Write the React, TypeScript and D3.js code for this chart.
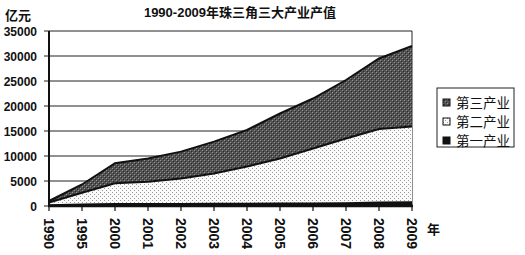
import React from "react";
import * as d3 from "d3";

const years = ["1990", "1995", "2000", "2001", "2002", "2003", "2004", "2005", "2006", "2007", "2008", "2009"];
const primary = [150, 300, 400, 400, 420, 430, 460, 480, 500, 530, 700, 750];
const secondary = [550, 2350, 4150, 4470, 5080, 6070, 7440, 9020, 11000, 12970, 14700, 15150];
const tertiary = [300, 1650, 4000, 4630, 5370, 6370, 7300, 9000, 10000, 11700, 14100, 16100];
const yTicks = [0, 5000, 10000, 15000, 20000, 25000, 30000, 35000];
const seriesNames = ["第一产业", "第二产业", "第三产业"];
const legendOrder = ["第三产业", "第二产业", "第一产业"];

const FONT = "'Liberation Sans', Arial, 'Noto Sans CJK SC', sans-serif";

export default function App() {
  const W = 525, H = 255;
  const x = d3.scalePoint<string>().domain(years).range([49, 412]);
  const y = d3.scaleLinear().domain([0, 35000]).range([206, 31]);

  const rows = years.map((yr, i) => ({
    year: yr,
    "第一产业": primary[i],
    "第二产业": secondary[i],
    "第三产业": tertiary[i],
  }));
  const stacked = d3.stack<any>().keys(seriesNames)(rows);
  const area = d3
    .area<any>()
    .x((d) => x(d.data.year)!)
    .y0((d) => y(d[0]))
    .y1((d) => y(d[1]));
  const line = d3
    .line<any>()
    .x((d) => x(d.data.year)!)
    .y((d) => y(d[1]));

  const fills: Record<string, string> = {
    "第一产业": "#111",
    "第二产业": "url(#dots)",
    "第三产业": "url(#hatch)",
  };

  return (
    <svg width={W} height={H} style={{ position: "absolute", left: 0, top: 0, background: "#fff" }} fontFamily={FONT}>
      <defs>
        <pattern id="dots" width="4" height="4" patternUnits="userSpaceOnUse">
          <rect width="4" height="4" fill="#fafafa" />
          <rect x="0" y="0" width="1" height="1" fill="#999" />
          <rect x="2" y="2" width="1" height="1" fill="#999" />
        </pattern>
        <pattern id="hatch" width="4" height="4" patternUnits="userSpaceOnUse">
          <rect width="4" height="4" fill="#525252" />
          <rect x="0" y="0" width="1" height="1" fill="#959595" />
          <rect x="2" y="2" width="1" height="1" fill="#959595" />
          <rect x="1" y="1" width="1" height="1" fill="#2a2a2a" />
          <rect x="3" y="3" width="1" height="1" fill="#2a2a2a" />
        </pattern>
      </defs>

      {/* title */}
      <text x={240} y={17} textAnchor="middle" fontSize={13} fontWeight="bold" fill="#111">
        1990-2009年珠三角三大产业产值
      </text>
      <text x={5} y={20} fontSize={13} fontWeight="bold" fill="#111">亿元</text>

      {/* gridlines */}
      {yTicks.map((t) => (
        <line key={t} x1={44} x2={412} y1={y(t)} y2={y(t)} stroke="#222" strokeWidth={1} />
      ))}
      {/* right border */}
      <line x1={412} x2={412} y1={y(35000)} y2={y(0)} stroke="#222" strokeWidth={1} />

      {/* areas */}
      {stacked.map((s) => (
        <path key={s.key} d={area(s) || ""} fill={fills[s.key]} stroke="none" />
      ))}
      {stacked.map((s) => (
        <path key={s.key + "l"} d={line(s) || ""} fill="none" stroke="#111" strokeWidth={2} />
      ))}

      {/* axes */}
      <line x1={49} x2={49} y1={y(35000)} y2={y(0) + 1} stroke="#111" strokeWidth={2} />
      <line x1={48} x2={413} y1={y(0)} y2={y(0)} stroke="#111" strokeWidth={2.5} />
      {years.map((yr) => (
        <line key={yr} x1={x(yr)} x2={x(yr)} y1={y(0)} y2={y(0) + 5} stroke="#111" strokeWidth={1.2} />
      ))}

      {/* y labels */}
      {yTicks.map((t) => (
        <text key={t} x={37} y={y(t) + 4.5} textAnchor="end" fontSize={12} fontWeight="bold" fill="#111">
          {t}
        </text>
      ))}
      {/* x labels */}
      {years.map((yr) => (
        <text
          key={yr}
          transform={`translate(${x(yr)! - 5},${218}) rotate(90)`}
          fontSize={14}
          fontWeight="bold"
          fill="#111"
        >
          {yr}
        </text>
      ))}
      <text x={427} y={234} fontSize={13} fontWeight="bold" fill="#111">年</text>

      {/* legend */}
      <rect x={437} y={88} width={77} height={59} fill="#fff" stroke="#222" strokeWidth={1} />
      {legendOrder.map((k, i) => (
        <g key={k} transform={`translate(443,${103 + i * 19})`}>
          <rect x={0} y={-4} width={7} height={7} fill={fills[k]} stroke="#111" strokeWidth={1} />
          <text x={13} y={5} fontSize={13.5} fill="#111">{k}</text>
        </g>
      ))}
    </svg>
  );
}
